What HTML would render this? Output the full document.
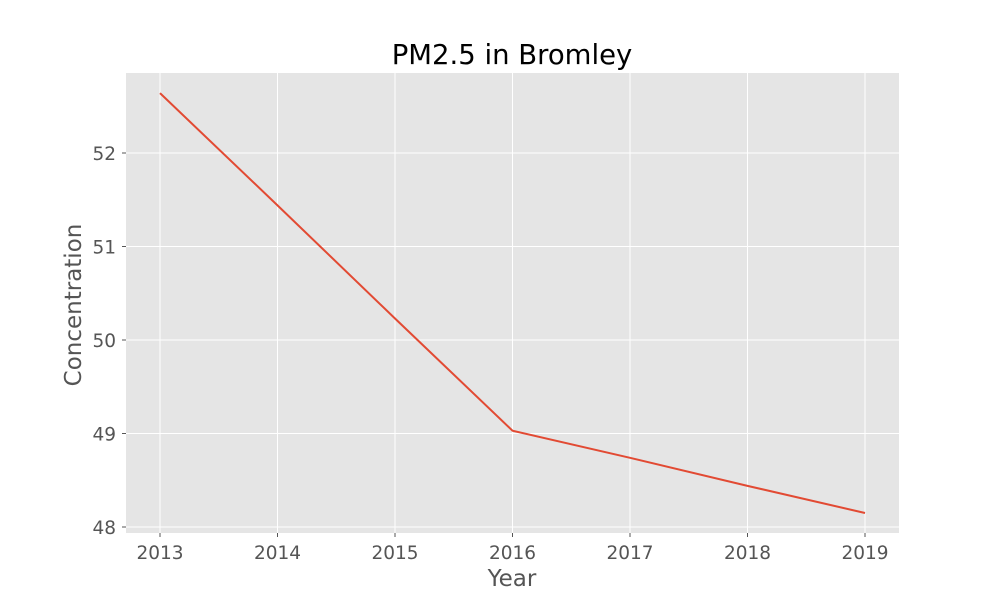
<!DOCTYPE html>
<html><head><meta charset="utf-8"><style>
body{margin:0;background:#fff;}
svg{display:block;font-family:"DejaVu Sans","Liberation Sans",sans-serif;}
</style></head><body>
<svg id="chart" width="1000" height="600">
<rect x="0" y="0" width="1000" height="600" fill="#fff"/>
<rect x="126" y="73" width="773" height="460" fill="#e5e5e5"/>
<g id="grid"></g>
<g id="ticks"></g>
<g id="series"></g>
<text x="512" y="64" font-size="27.5" text-anchor="middle" fill="#000">PM2.5 in Bromley</text>
<text x="512" y="586" font-size="23" text-anchor="middle" fill="#555">Year</text>
<text transform="translate(81,305) rotate(-90)" font-size="23" text-anchor="middle" fill="#555">Concentration</text>
</svg>
<script>
const years = [2013, 2014, 2015, 2016, 2017, 2018, 2019];
const concentration = [52.64, 51.44, 50.23, 49.03, 48.74, 48.44, 48.15];
const yTicks = [48, 49, 50, 51, 52];
const NS = "http://www.w3.org/2000/svg";
function xs(v){ return 160 + (v - 2013) * 117.5; }
function ys(v){ return 527 - (v - 48) * 93.5; }
const grid = document.getElementById('grid');
const ticks = document.getElementById('ticks');
const series = document.getElementById('series');
function mk(tag, attrs, parent){ const e=document.createElementNS(NS,tag); for(const k in attrs) e.setAttribute(k,attrs[k]); parent.appendChild(e); return e; }
years.forEach(y=>{
  const l = mk('line',{x1:xs(y),x2:xs(y),y1:73,y2:533,stroke:'#fff','stroke-width':1},grid);
  
  
  const t = mk('text',{x:xs(y),y:559,'font-size':18.5,'text-anchor':'middle',fill:'#555'},ticks);
  t.textContent = y;
  
  
  const tk = mk('line',{x1:xs(y),x2:xs(y),y1:533,y2:537,stroke:'#555'},ticks);
  
  
});
yTicks.forEach(v=>{
  const l = mk('line',{x1:126,x2:899,y1:ys(v),y2:ys(v),stroke:'#fff','stroke-width':1},grid);
  
  
  const t = mk('text',{x:116,y:ys(v)+7,'font-size':18.5,'text-anchor':'end',fill:'#555'},ticks);
  t.textContent = v;
  
  
  const tk = mk('line',{x1:122,x2:126,y1:ys(v),y2:ys(v),stroke:'#555'},ticks);
  
  
});
const pts = years.map((y,i)=>xs(y)+','+ys(concentration[i])).join(' ');
const line = mk('polyline',{points:pts,fill:'none',stroke:'#e24a33','stroke-width':2},series);


</script>
</body></html>
